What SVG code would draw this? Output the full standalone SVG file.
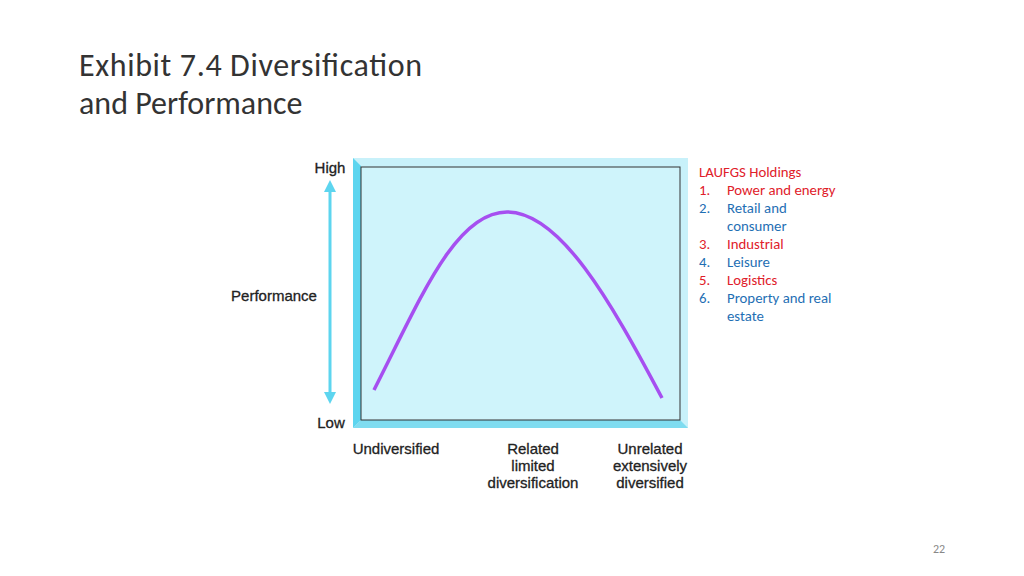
<svg xmlns="http://www.w3.org/2000/svg" width="1024" height="576" viewBox="0 0 1024 576">
<style>
.t{font-family:"Liberation Sans",Arial,sans-serif;font-size:15px;fill:#222;stroke:#222;stroke-width:0.3}
.c{text-anchor:middle}
.l{font-family:Calibri,Carlito,"Liberation Sans",sans-serif;font-size:14.8px}
.r{fill:#e0202a}.b{fill:#1f6fb4}
</style>
<defs>
<marker id="ah" viewBox="0 0 10 10" refX="5" refY="5" markerWidth="4" markerHeight="6" orient="auto-start-reverse"><path d="M0,0 L10,5 L0,10 Z" fill="#5dd5ef"/></marker>
</defs>
<rect width="1024" height="576" fill="#fff"/>
<g id="title"><text x="79" y="76" font-family="Calibri,Carlito,'Liberation Sans',sans-serif" font-size="32" textLength="343" fill="#333">Exhibit 7.4 Diversification</text>
<text x="79" y="114" font-family="Calibri,Carlito,'Liberation Sans',sans-serif" font-size="32" fill="#333">and Performance</text></g>
<g id="chart">
<rect x="353" y="158" width="335" height="270" fill="#c8f1fa"/>
<path d="M353,158 L361,166 L361,420 L353,428 Z" fill="#5dd5ef"/>
<path d="M353,428 L361,420 L680,420 L688,428 Z" fill="#7fdcf0"/>
<rect x="361" y="167" width="319" height="253" fill="#cff4fb" stroke="#333" stroke-width="1"/>
<path d="M374,390 C420,300 455,212 507,212 C560,212 610,300 662,398" fill="none" stroke="#a64ff0" stroke-width="3.5"/>
</g>
<g id="connectors"><line x1="330" y1="186" x2="330" y2="398" stroke="#5dd5ef" stroke-width="3" marker-start="url(#ah)" marker-end="url(#ah)"/></g>
<g id="labels">
<text class="t c" x="330" y="173">High</text>
<text class="t c" x="331" y="428">Low</text>
<text class="t c" x="274" y="301">Performance</text>
<text class="t c" x="396" y="454">Undiversified</text>
<text class="t c" x="533" y="454">Related</text><text class="t c" x="533" y="471">limited</text><text class="t c" x="533" y="488">diversification</text>
<text class="t c" x="650" y="454">Unrelated</text><text class="t c" x="650" y="471">extensively</text><text class="t c" x="650" y="488">diversified</text>
</g>
<g id="list">
<text x="699" y="177" class="l r">LAUFGS Holdings</text>
<text x="699" y="195" class="l r">1.</text><text x="727" y="195" class="l r">Power and energy</text>
<text x="699" y="213" class="l b">2.</text><text x="727" y="213" class="l b">Retail and</text>
<text x="727" y="231" class="l b">consumer</text>
<text x="699" y="249" class="l r">3.</text><text x="727" y="249" class="l r">Industrial</text>
<text x="699" y="267" class="l b">4.</text><text x="727" y="267" class="l b">Leisure</text>
<text x="699" y="285" class="l r">5.</text><text x="727" y="285" class="l r">Logistics</text>
<text x="699" y="303" class="l b">6.</text><text x="727" y="303" class="l b">Property and real</text>
<text x="727" y="321" class="l b">estate</text>
</g>
<text x="939" y="553" text-anchor="middle" font-family="Calibri,Carlito,'Liberation Sans',sans-serif" font-size="12" fill="#888">22</text>
</svg>
